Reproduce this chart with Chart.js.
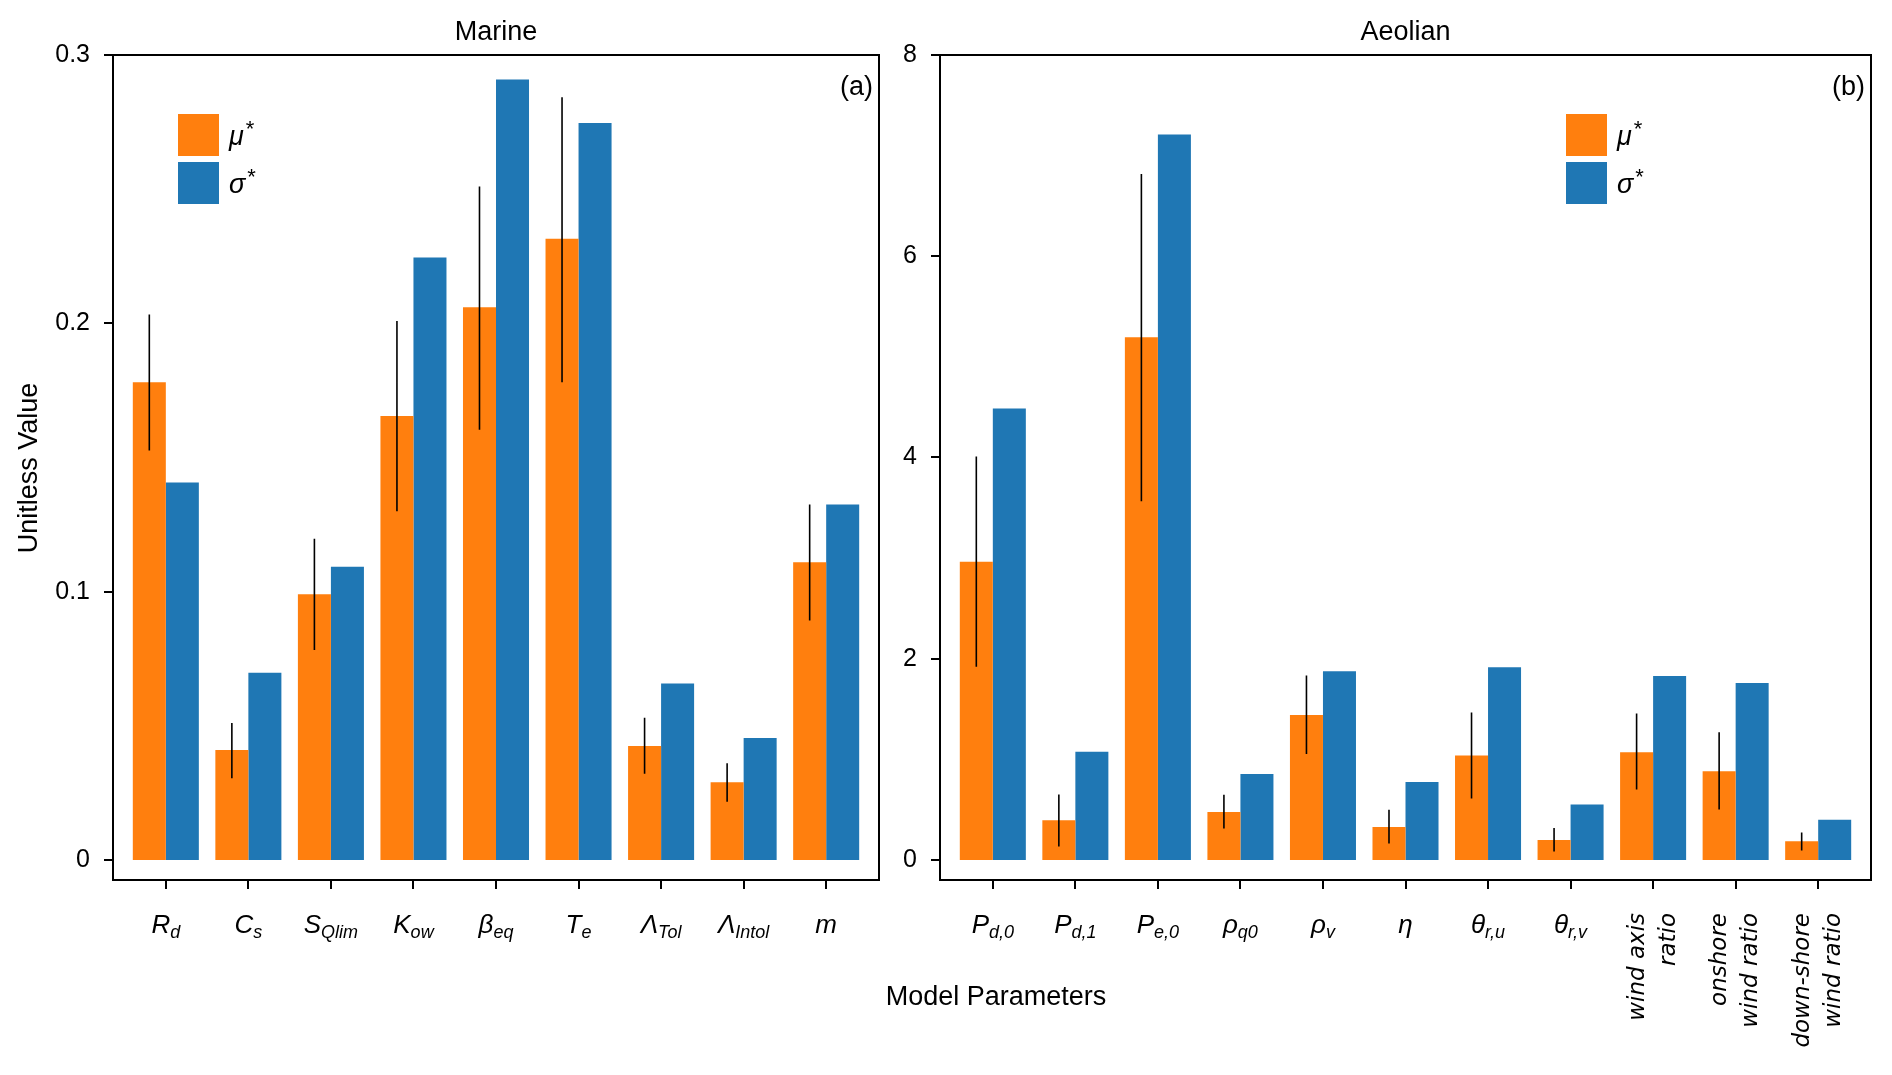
<!DOCTYPE html>
<html>
<head>
<meta charset="utf-8">
<script src="https://cdn.jsdelivr.net/npm/chart.js@4.4.1/dist/chart.umd.min.js"></script>
<style>
  html, body { margin: 0; padding: 0; background: #fff; }
  canvas { position: absolute; left: 0; top: 0; }
</style>
</head>
<body>
<canvas id="marine" width="1892" height="1075"></canvas>
<canvas id="aeolian" width="1892" height="1075"></canvas>
<script>
// Marine parameters
const marineLabels = [['R', 'd'], ['C', 's'], ['S', 'Qlim'], ['K', 'ow'], ['β', 'eq'], ['T', 'e'], ['Λ', 'Tol'], ['Λ', 'Intol'], ['m', '']];
const marineMu = [0.178, 0.041, 0.099, 0.1655, 0.206, 0.2315, 0.0425, 0.029, 0.111];
const marineSigma = [0.1407, 0.0698, 0.1093, 0.2245, 0.2909, 0.2747, 0.0658, 0.0455, 0.1325];
const marineErrLow = [0.1526, 0.0305, 0.0783, 0.130, 0.1603, 0.178, 0.0321, 0.0217, 0.0893];
const marineErrHigh = [0.2033, 0.0511, 0.1197, 0.2009, 0.251, 0.2843, 0.053, 0.0361, 0.1325];
const marineTicks = [0, 0.1, 0.2, 0.3];

// Aeolian parameters
const aeolianLabels = [['P', 'd,0'], ['P', 'd,1'], ['P', 'e,0'], ['ρ', 'q0'], ['ρ', 'v'], ['η', ''], ['θ', 'r,u'], ['θ', 'r,v'],
  ['wind axis\nratio'], ['onshore\nwind ratio'], ['down-shore\nwind ratio']];
const aeolianMu = [2.964, 0.395, 5.196, 0.477, 1.441, 0.327, 1.039, 0.199, 1.071, 0.883, 0.185];
const aeolianSigma = [4.488, 1.075, 7.21, 0.854, 1.875, 0.776, 1.915, 0.552, 1.829, 1.758, 0.399];
const aeolianErrLow = [1.92, 0.135, 3.566, 0.313, 1.053, 0.164, 0.612, 0.085, 0.701, 0.502, 0.093];
const aeolianErrHigh = [4.01, 0.651, 6.817, 0.648, 1.833, 0.498, 1.466, 0.317, 1.456, 1.270, 0.274];
const aeolianTicks = [0, 2, 4, 6, 8];

const seriesNames = ['μ', 'σ'];
const ORANGE = '#ff7f0e';
const BLUE = '#1f77b4';
const SANS = '"Liberation Sans", Arial, sans-serif';

function mathLabel(ctx, x, y, base, sub) {
    ctx.font = 'italic 26px ' + SANS;
    const wb = ctx.measureText(base).width;
    ctx.font = 'italic 18px ' + SANS;
    const ws = ctx.measureText(sub).width;
    const x0 = x - (wb + ws) / 2;
    ctx.textAlign = 'left';
    ctx.textBaseline = 'alphabetic';
    ctx.font = 'italic 26px ' + SANS;
    ctx.fillText(base, x0, y);
    ctx.font = 'italic 18px ' + SANS;
    ctx.fillText(sub, x0 + wb, y + 5);
}

function makePanel(id, p) {
    const ctx = document.getElementById(id).getContext('2d');
    const n = p.labels.length;

    const panelDecor = {
        id: 'panelDecor',
        afterDatasetsDraw(chart) {
            const c = chart.ctx;
            const ys = chart.scales.y;
            c.save();
            // error bars on mu bars
            const meta = chart.getDatasetMeta(0);
            c.strokeStyle = '#000';
            c.lineWidth = 1.6;
            c.beginPath();
            meta.data.forEach((bar, i) => {
                c.moveTo(bar.x, ys.getPixelForValue(p.errLow[i]));
                c.lineTo(bar.x, ys.getPixelForValue(p.errHigh[i]));
            });
            c.stroke();
            c.restore();
        },
        afterDraw(chart) {
            const c = chart.ctx;
            const area = chart.chartArea;
            const xs = chart.scales.x;
            const ys = chart.scales.y;
            c.save();
            c.strokeStyle = '#000';
            c.fillStyle = '#000';

            // frame
            c.lineWidth = 2;
            c.strokeRect(area.left, area.top, area.right - area.left, area.bottom - area.top);

            // tick marks
            p.labels.forEach((_, i) => {
                const x = Math.round(xs.getPixelForValue(i));
                c.fillRect(x - 1, area.bottom, 2, 9);
            });
            p.ticks.forEach((v) => {
                const y = Math.round(ys.getPixelForValue(v));
                c.fillRect(area.left - 9, y - 1, 9, 2);
            });

            // title
            c.font = '27px ' + SANS;
            c.textAlign = 'center';
            c.textBaseline = 'alphabetic';
            c.fillText(p.title, (area.left + area.right) / 2, 40);
            // panel letter
            c.textAlign = 'right';
            c.fillText(p.letter, area.right - 6, 95);

            // legend
            const colors = [ORANGE, BLUE];
            colors.forEach((col, k) => {
                const by = 114 + k * 48;
                c.fillStyle = col;
                c.fillRect(p.legendX, by, 41, 42);
                c.fillStyle = '#000';
                c.textAlign = 'left';
                c.textBaseline = 'alphabetic';
                c.font = 'italic 27px ' + SANS;
                c.fillText(seriesNames[k], p.legendX + 51, by + 31);
                const w = c.measureText(seriesNames[k]).width;
                c.font = '22px ' + SANS;
                c.fillText('*', p.legendX + 53 + w, by + 22);
            });

            // x labels
            p.labels.forEach((lab, i) => {
                const x = xs.getPixelForValue(i);
                if (lab.length === 2) {
                    mathLabel(c, x, 933, lab[0], lab[1]);
                } else {
                    const lines = lab[0].split('\n');
                    c.save();
                    c.translate(x, 913);
                    c.rotate(-Math.PI / 2);
                    c.font = 'oblique 23px "DejaVu Sans", sans-serif';
                    c.textAlign = 'right';
                    c.textBaseline = 'middle';
                    const gap = 31;
                    lines.forEach((ln, j) => {
                        c.fillText(ln, 0, (j - (lines.length - 1) / 2) * gap);
                    });
                    c.restore();
                }
            });

            if (p.shared) {
                c.font = '27px ' + SANS;
                c.textAlign = 'center';
                c.textBaseline = 'middle';
                c.save();
                c.translate(30, 468);
                c.rotate(-Math.PI / 2);
                c.fillText('Unitless Value', 0, 0);
                c.restore();
                c.textBaseline = 'alphabetic';
                c.fillText('Model Parameters', 996, 1005);
            }
            c.restore();
        }
    };

    return new Chart(ctx, {
        type: 'bar',
        data: {
            datasets: [{
                label: 'μ*',
                data: p.mu.map((v, i) => ({ x: i, y: v })),
                backgroundColor: ORANGE
            }, {
                label: 'σ*',
                data: p.sigma.map((v, i) => ({ x: i, y: v })),
                backgroundColor: BLUE
            }]
        },
        options: {
            responsive: false,
            animation: false,
            devicePixelRatio: 1,
            categoryPercentage: 0.8,
            barPercentage: 1.0,
            layout: { padding: { left: p.padLeft, right: p.padRight, top: 55, bottom: 0 } },
            plugins: {
                legend: { display: false },
                tooltip: { enabled: false }
            },
            scales: {
                x: {
                    type: 'linear',
                    offset: false,
                    bounds: 'data',
                    min: -0.64,
                    max: n - 1 + 0.64,
                    afterFit: (s) => { s.height = 195; },
                    afterBuildTicks: (s) => { s.ticks = p.labels.map((_, i) => ({ value: i })); },
                    border: { display: false },
                    grid: { display: false },
                    ticks: { stepSize: 1, maxTicksLimit: 40, callback: () => '' }
                },
                y: {
                    bounds: 'data',
                    min: p.yMin,
                    max: p.ticks[p.ticks.length - 1],
                    afterFit: (s) => { s.width = p.axisWidth; },
                    afterBuildTicks: (s) => { s.ticks = p.ticks.map(v => ({ value: v })); },
                    border: { display: false },
                    grid: { display: false },
                    ticks: {
                        padding: 15,
                        color: '#000',
                        font: { family: SANS, size: 25 },
                        callback: (v) => String(+v.toFixed(2))
                    }
                }
            }
        },
        plugins: [panelDecor]
    });
}

makePanel('marine', {
    title: 'Marine', letter: '(a)', labels: marineLabels,
    mu: marineMu, sigma: marineSigma, errLow: marineErrLow, errHigh: marineErrHigh,
    ticks: marineTicks, yMin: -0.00745,
    padLeft: 0, axisWidth: 113, padRight: 1892 - 879, legendX: 178, shared: true
});
makePanel('aeolian', {
    title: 'Aeolian', letter: '(b)', labels: aeolianLabels,
    mu: aeolianMu, sigma: aeolianSigma, errLow: aeolianErrLow, errHigh: aeolianErrHigh,
    ticks: aeolianTicks, yMin: -0.199,
    padLeft: 880, axisWidth: 60, padRight: 1892 - 1871, legendX: 1566, shared: false
});
</script>
</body>
</html>
